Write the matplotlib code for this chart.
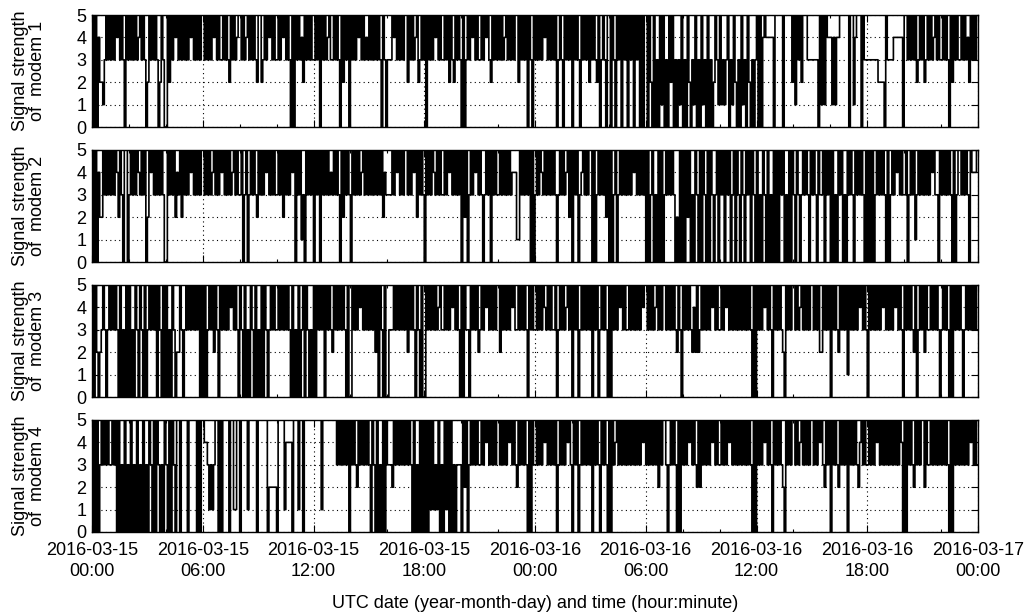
import datetime as dt
import matplotlib
matplotlib.use("Agg")
import matplotlib.pyplot as plt
import matplotlib.dates as mdates

plt.rcParams['font.family'] = ['Liberation Sans', 'DejaVu Sans']

INICIO = dt.datetime(2016, 3, 15)
FIN = INICIO + dt.timedelta(hours=48)

# una cadena por hora, un digito por cada 5 minutos (nivel de senal 0..5)
modem1 = [
    "505042213535", "353545353053", "535353453530", "253535302530",
    "052535453535", "353545353535", "535353545353", "353532535345",
    "535345353532", "552353545353", "353545353050", "535342535353",
    "353505353453", "353530525350", "535354535343", "535353530530",
    "333545353535", "525353452353", "505353545353", "353525325353",
    "050353545353", "353545325353", "535345353535", "525353505305",
    "353535453535", "350353053535", "053530535352", "535325035305",
    "505305350535", "053505350505", "505205030515", "030525030315",
    "030520315030", "513050302531", "513135031520", "305130520303",
    "505045444440", "555550555552", "515352555333", "333305151544",
    "414144555555", "055145550533", "333333322220", "533334444440",
    "553535352353", "523535345353", "353530525353", "353534253535",
]
modem2 = [
    "505042253535", "353542530550", "353535435350", "254535353530",
    "053535243525", "353545353535", "535353453535", "453535345353",
    "350350353532", "535354535353", "353525353545", "053513053535",
    "053505353534", "353530525353", "053535345353", "535353535243",
    "333535453535", "535354525353", "053535435353", "353545353535",
    "052503535453", "530353505353", "353535353444", "115353535050",
    "353543535353", "530353534525", "053503453535", "505035353525",
    "050350353535", "353545353535", "050350305050", "353535302050",
    "505250305305", "053050530350", "535053503505", "305305350530",
    "503053050305", "050535030505", "305303535305", "353053350535",
    "050305350305", "353053535305", "050503535353", "050353545353",
    "350353513535", "353535453305", "353535305035", "535353054445",
]
modem3 = [
    "505202353035", "353530503050", "503053053050", "353535053050",
    "503053022530", "353535353505", "050353525305", "353535453530",
    "530503053050", "305053035353", "353535353050", "305035053030",
    "505353505353", "253535353050", "053535453535", "353525053050",
    "033353535353", "525353053050", "053535353453", "353535453530",
    "505330535352", "353545353535", "525353535453", "353535305353",
    "353535435353", "350353534535", "053503535353", "505350353530",
    "505353545353", "353535353545", "535353453535", "535353532530",
    "535353242523", "535353545353", "353545353535", "353535353050",
    "535354535305", "353532053535", "535345353535", "535352253535",
    "053532535351", "535353545353", "053535353545", "353535453530",
    "535353250353", "525335353530", "353530505353", "530353535353",
]
modem4 = [
    "050503535353", "353505030503", "050305030503", "053050530305",
    "305053055055", "550555550505", "544313135505", "055550551155",
    "055551555550", "555555022222", "055551444405", "551550555555",
    "555551555555", "555353535350", "535325353535", "305305030505",
    "333253535353", "535305030505", "050515131503", "051505030333",
    "052503535353", "353545353535", "535353545353", "253535305053",
    "353535453535", "350353535453", "053503535353", "505353053530",
    "505345353535", "353535353545", "353535352535", "530353530505",
    "353545353252", "535353545353", "353535453535", "353535353050",
    "535354535305", "353532053535", "535345353535", "535354532535",
    "053532535350", "535353245353", "353535453535", "353535353540",
    "505353253535", "525335353535", "353530505353", "535353545353",
]
modems = [modem1, modem2, modem3, modem4]


def serie(horas):
    t, v = [], []
    for h, s in enumerate(horas):
        for k, c in enumerate(s):
            t.append(INICIO + dt.timedelta(hours=h + k / len(s)))
            v.append(int(c))
    t.append(INICIO + dt.timedelta(hours=len(horas)))
    v.append(v[-1])
    return t, v


W, H = 1029, 613
fig = plt.figure(figsize=(W / 100, H / 100), dpi=100)
fondos = [127, 262, 397, 532]  # borde inferior de cada panel en pixeles
alto = 112

for i, (datos, fondo) in enumerate(zip(modems, fondos)):
    ax = fig.add_axes([92 / W, 1 - fondo / H, 886 / W, alto / H])
    t, v = serie(datos)
    ax.plot(t, v, drawstyle='steps-post', color='black', lw=1.2)
    ax.set_ylim(0, 5)
    ax.set_xlim(INICIO, FIN)
    ax.set_yticks(range(6))
    ax.xaxis.set_major_locator(mdates.HourLocator(byhour=[0, 6, 12, 18]))
    ax.xaxis.set_minor_locator(mdates.HourLocator(byhour=range(0, 24, 2)))
    ax.xaxis.set_major_formatter(mdates.DateFormatter('%Y-%m-%d\n%H:%M'))
    ax.grid(True, which='major', color='black', linestyle=(0, (1, 3)), lw=0.8)
    ax.tick_params(which='major', direction='in', top=True, right=True,
                   length=5, width=0.8, labelsize=13, pad=4)
    ax.tick_params(axis='x', which='major', pad=7)
    ax.tick_params(which='minor', direction='in', top=True, length=2.5, width=0.8)
    for sp in ax.spines.values():
        sp.set_linewidth(1)
    if i < 3:
        ax.tick_params(labelbottom=False)
    else:
        for lbl in ax.get_xticklabels():
            lbl.set_linespacing(1.35)
    yc = 1 - (fondo - alto / 2) / H
    fig.text(29 / W, yc, f'Signal strength\nof  modem {i + 1}', rotation=90,
             ha='center', va='center', multialignment='center', fontsize=13,
             linespacing=1.05)

fig.text(535 / W, 1 - 604 / H, 'UTC date (year-month-day) and time (hour:minute)',
         ha='center', va='center', fontsize=13)

fig.savefig('out.png', dpi=100)
